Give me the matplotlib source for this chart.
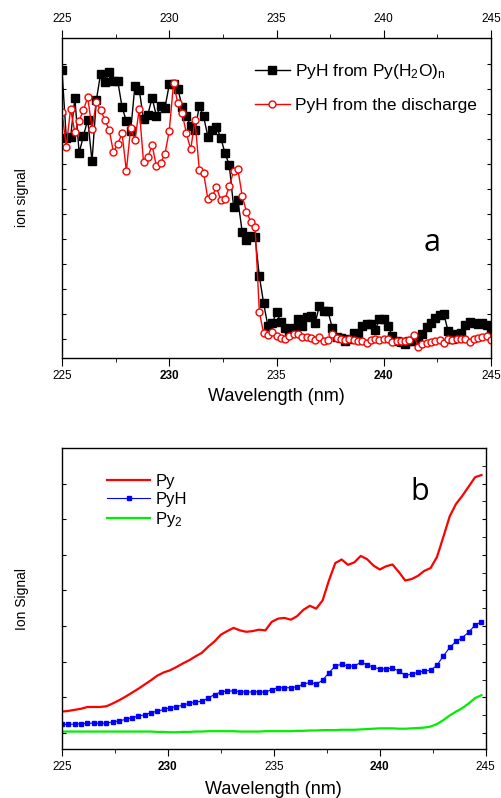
import numpy as np
import matplotlib
matplotlib.use("Agg")
import matplotlib.pyplot as plt
from matplotlib.ticker import MultipleLocator

plt.rcParams['font.family'] = ['Liberation Sans', 'DejaVu Sans']
plt.rcParams['mathtext.default'] = 'regular'

# panel a: 0.2 nm scan grid
wl_a = np.linspace(225, 245, 101)
pyh_water = [10.75, 8.04, 8.07, 9.63, 7.44, 8.13, 8.77, 7.11, 9.55, 10.61,
             10.27, 10.67, 10.33, 10.31, 9.28, 8.71, 8.31, 10.13, 9.97, 8.80,
             8.97, 9.64, 8.93, 9.31, 9.24, 10.18, 10.19, 10.01, 9.29, 8.91,
             8.53, 8.36, 9.31, 8.91, 8.09, 8.36, 8.49, 8.05, 7.43, 6.95,
             5.29, 5.56, 4.29, 3.96, 4.10, 4.09, 2.51, 1.43, 0.51, 0.63,
             1.07, 0.68, 0.43, 0.30, 0.42, 0.78, 0.53, 0.87, 0.93, 0.63,
             1.33, 1.12, 1.11, 0.44, 0.06, 0.03, -0.07, -0.02, 0.24, 0.21,
             0.53, 0.59, 0.59, 0.36, 0.78, 0.79, 0.53, 0.11, -0.07, -0.14,
             -0.22, -0.09, -0.07, -0.05, 0.18, 0.49, 0.63, 0.84, 0.95, 1.01,
             0.31, -0.01, 0.21, 0.22, 0.55, 0.69, 0.64, 0.59, 0.63, 0.56,
             0.32]
pyh_disch = [9.09, 7.69, 9.20, 8.26, 8.73, 9.16, 9.67, 8.40, 9.48, 9.16,
             8.76, 8.36, 7.47, 7.79, 8.23, 6.72, 8.44, 7.95, 9.19, 7.09,
             7.27, 7.75, 6.92, 7.03, 7.41, 8.32, 10.22, 9.43, 9.03, 8.22,
             7.58, 8.76, 6.76, 6.65, 5.60, 5.71, 6.07, 5.56, 5.59, 6.11,
             6.72, 6.79, 5.72, 5.09, 4.69, 4.49, 1.09, 0.22, 0.16, 0.27,
             0.13, 0.02, 0.00, 0.12, 0.20, 0.18, 0.09, 0.06, 0.02, -0.04,
             0.06, -0.08, -0.05, 0.20, 0.05, 0.01, -0.03, 0.00, -0.03, -0.07,
             -0.08, -0.16, -0.03, -0.01, -0.03, 0.01, 0.00, -0.12, -0.10, -0.10,
             -0.08, -0.04, 0.17, -0.32, -0.20, -0.15, -0.11, -0.07, -0.05, -0.17,
             -0.01, -0.05, -0.02, 0.00, 0.01, -0.12, 0.00, 0.02, 0.09, 0.13,
             -0.05]

# panel b: 0.3 nm scan grid
wl_b = np.linspace(225, 244.8, 67)
py = [0.60, 0.62, 0.65, 0.68, 0.73, 0.73, 0.73, 0.75, 0.83, 0.92,
      1.02, 1.13, 1.24, 1.36, 1.48, 1.61, 1.70, 1.76, 1.85, 1.95,
      2.04, 2.15, 2.25, 2.42, 2.57, 2.76, 2.86, 2.95, 2.88, 2.84,
      2.86, 2.90, 2.88, 3.12, 3.21, 3.23, 3.18, 3.28, 3.46, 3.57,
      3.49, 3.72, 4.28, 4.77, 4.87, 4.72, 4.79, 4.97, 4.88, 4.70,
      4.59, 4.68, 4.73, 4.52, 4.28, 4.32, 4.41, 4.55, 4.63, 4.94,
      5.50, 6.08, 6.43, 6.66, 6.92, 7.18, 7.24]
pyh = [0.24, 0.24, 0.25, 0.26, 0.27, 0.28, 0.27, 0.28, 0.31, 0.34,
       0.38, 0.43, 0.47, 0.51, 0.57, 0.61, 0.66, 0.71, 0.74, 0.78,
       0.83, 0.87, 0.89, 0.98, 1.08, 1.15, 1.18, 1.18, 1.16, 1.15,
       1.15, 1.16, 1.14, 1.22, 1.27, 1.27, 1.27, 1.30, 1.37, 1.42,
       1.37, 1.48, 1.69, 1.88, 1.93, 1.88, 1.88, 1.98, 1.92, 1.84,
       1.80, 1.80, 1.82, 1.74, 1.62, 1.65, 1.70, 1.74, 1.76, 1.90,
       2.16, 2.40, 2.57, 2.68, 2.83, 3.03, 3.12]
py2 = [0.04, 0.04, 0.04, 0.04, 0.04, 0.04, 0.04, 0.04, 0.04, 0.04,
       0.04, 0.04, 0.04, 0.04, 0.04, 0.03, 0.03, 0.02, 0.02, 0.03,
       0.03, 0.04, 0.04, 0.05, 0.05, 0.05, 0.05, 0.05, 0.04, 0.04,
       0.04, 0.04, 0.05, 0.05, 0.05, 0.05, 0.05, 0.06, 0.06, 0.07,
       0.07, 0.08, 0.08, 0.08, 0.09, 0.09, 0.09, 0.10, 0.11, 0.12,
       0.13, 0.13, 0.13, 0.12, 0.12, 0.13, 0.14, 0.15, 0.18, 0.25,
       0.36, 0.49, 0.60, 0.70, 0.83, 0.98, 1.06]

xticks = [225, 230, 235, 240, 245]

fig = plt.figure(figsize=(5.02, 7.98), dpi=100)
ax1 = fig.add_axes([0.1235, 0.5514, 0.8546, 0.401])
ax2 = fig.add_axes([0.1235, 0.0614, 0.844, 0.3772])

# ---- panel a
ax1.plot(wl_a, pyh_water, '-s', color='black', lw=1, ms=5.5,
         label='PyH from Py(H$_2$O)$_n$')
ax1.plot(wl_a, pyh_disch, '-o', color='red', lw=1, ms=5, mfc='white',
         mec='red', mew=1, label='PyH from the discharge')
ax1.set_xlim(225, 245)
ax1.set_ylim(-0.76, 12.04)
ax1.set_xticks(xticks)
ax1.set_xticklabels([str(t) for t in xticks])
ax1.xaxis.set_minor_locator(MultipleLocator(2.5))
ax1.set_yticks(range(12))
ax1.tick_params(axis='x', which='both', direction='out', top=True,
                labeltop=True, labelsize=8.5, pad=3)
ax1.tick_params(axis='x', which='major', length=6)
ax1.tick_params(axis='x', which='minor', length=3)
ax1.tick_params(axis='y', direction='in', left=True, right=True,
                labelleft=False, length=3)
ax1.set_xlabel('Wavelength (nm)', fontsize=13, labelpad=4)
ax1.set_ylabel('ion signal', fontsize=10, labelpad=24)
ax1.legend(loc='upper left', bbox_to_anchor=(0.45, 0.925), frameon=False,
           fontsize=12.5, borderpad=0, borderaxespad=0, handlelength=2.0,
           handletextpad=0.3, labelspacing=0.95)
ax1.text(0.862, 0.359, 'a', transform=ax1.transAxes, fontsize=22,
         family='Open Sans', ha='center', va='center')

# ---- panel b
ax2.plot(wl_b, py, color='#ff0000', lw=1.6, label='Py')
ax2.plot(wl_b, pyh, '-s', color='#0000ff', lw=0.8, ms=2.6, label='PyH')
ax2.plot(wl_b, py2, color='#00ee00', lw=1.6, label='Py$_2$')
ax2.set_xlim(225, 245)
ax2.set_ylim(-0.45, 8.0)
ax2.set_xticks(xticks)
ax2.set_xticklabels([str(t) for t in xticks])
ax2.xaxis.set_minor_locator(MultipleLocator(2.5))
ax2.set_yticks(range(8))
ax2.yaxis.set_minor_locator(MultipleLocator(0.5))
ax2.tick_params(axis='x', which='both', direction='out', labelsize=8.5)
ax2.tick_params(axis='x', which='major', length=5)
ax2.tick_params(axis='x', which='minor', length=3)
ax2.tick_params(axis='y', which='major', direction='in', left=True,
                right=True, labelleft=False, length=3)
ax2.tick_params(axis='y', which='minor', direction='in', left=False,
                right=True, length=3)
ax2.set_xlabel('Wavelength (nm)', fontsize=13, labelpad=6)
ax2.set_ylabel('Ion Signal', fontsize=10, labelpad=20)
ax2.legend(loc='upper left', bbox_to_anchor=(0.106, 0.915), frameon=False,
           fontsize=12, borderpad=0, borderaxespad=0, handlelength=2.6,
           handletextpad=0.3, labelspacing=0.2)
ax2.text(0.845, 0.854, 'b', transform=ax2.transAxes, fontsize=22,
         family='Open Sans', ha='center', va='center')

for ax in (ax1, ax2):
    for s in ax.spines.values():
        s.set_linewidth(1.0)
    for t in ax.xaxis.get_major_ticks():
        if t.get_loc() in (230, 240):
            t.label1.set_fontweight('bold')

fig.savefig('out.png', dpi=100)
